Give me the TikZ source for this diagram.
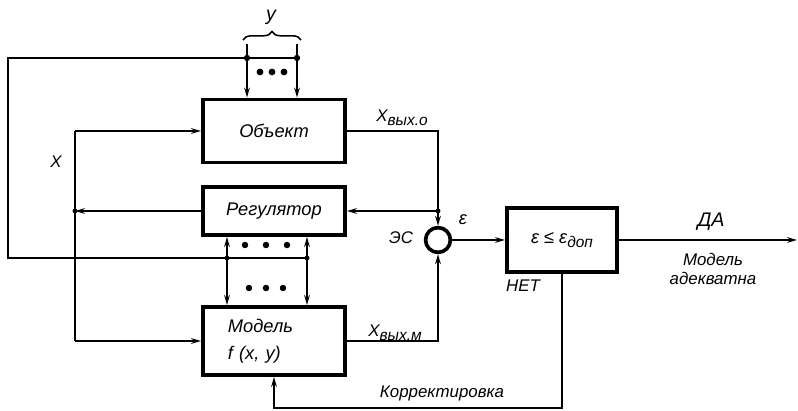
\documentclass[tikz,border=0pt]{standalone}
\usepackage{fontspec}
\setmainfont{Liberation Sans}
\usetikzlibrary{arrows.meta,positioning,decorations.pathreplacing}

\begin{document}
\begin{tikzpicture}[x=0.025cm,y=-0.025cm,>={Stealth[length=7pt,width=4pt]},
    blk/.style={draw,line width=2.8pt,minimum width=3.55cm,inner sep=0pt,
      font=\itshape\fontsize{13}{16}\selectfont},
    ln/.style={line width=1.3pt},
    jn/.style={circle,fill,inner sep=0pt,minimum size=4.5pt},
    lbl/.style={font=\itshape\fontsize{12}{14}\selectfont}]
  \useasboundingbox (0,0) rectangle (798,411);

  % blocks
  \node[blk,minimum height=1.575cm] (obj) at (274,131) {Объект};
  \node[blk,minimum height=1.2cm] (reg) at (274,211) {Регулятор};
  \node[blk,minimum height=1.7cm,text width=2.3cm,align=left,
    font=\itshape\fontsize{13}{19}\selectfont] (mod) at (274,341) {Модель\\f (x, y)};
  \node[draw,circle,line width=2.6pt,minimum size=0.62cm,inner sep=0pt] (es) at (438,240) {};
  \node[blk,minimum width=2.75cm,minimum height=1.6cm] (chk) at (562,240) {ε ≤ ε\raisebox{-0.4ex}{\fontsize{11}{12}\selectfont доп}};

  % y inputs
  \coordinate (ya) at (247,44);
  \coordinate (yb) at (297,44);
  \coordinate (lp) at (8,58);
  \draw[decorate,decoration={brace,amplitude=6pt},line width=1.1pt] (243,40) -- (301,40);
  \node[lbl,font=\itshape\fontsize{14}{16}\selectfont] (ylab) at (271,17) {y};
  \draw[ln,->] (ya) -- (ya |- obj.north);
  \draw[ln,->] (yb) -- (yb |- obj.north);
  \draw[ln] (yb |- lp) -- (lp) -- (8,258) -- (307,258);
  \node[jn] at (ya |- lp) {};
  \node[jn] at (yb |- lp) {};
  \foreach \x in {260,272,284}
    \fill (\x,72) circle (2.4pt);

  % y to regulator and model
  \coordinate (pa) at (227,258);
  \coordinate (pb) at (307,258);
  \foreach \p in {pa,pb}{
    \draw[ln,->] (\p) -- (\p |- reg.south);
    \draw[ln,->] (\p) -- (\p |- mod.north);
    \node[jn,minimum size=3.5pt] at (\p) {};
  }
  \foreach \x in {245,266,287}
    \fill (\x,245) circle (2.3pt);
  \foreach \x in {249,266,283}
    \fill (\x,288) circle (2.3pt);

  % x input
  \coordinate (xt) at (75,131);
  \coordinate (xb) at (75,341);
  \draw[ln] (xt) -- (xb);
  \draw[ln,->] (xt) -- (obj.west);
  \draw[ln,->] (xb) -- (mod.west);
  \draw[ln,->] (reg.west) -- (reg.west -| xt);
  \node[jn,minimum size=3.5pt] at (reg.west -| xt) {};
  \node[lbl] (xlab) at (56,162) {X};

  % outputs and comparison
  \draw[ln,->] (obj.east) -| (es.north);
  \draw[ln,->] (mod.east) -| (es.south);
  \draw[ln,->] (es |- reg.east) -- (reg.east);
  \node[jn,minimum size=3.5pt] at (es |- reg.east) {};
  \draw[ln,->] (es.east) -- (chk.west);
  \coordinate (out) at (797,240);
  \draw[ln,->] (chk.east) -- (out);
  \coordinate (fb) at (562,408);
  \draw[ln,->] (chk.south) -- (fb) -| (mod.south);

  % labels
  \node[lbl] (xo) at (402,118) {X\raisebox{-0.4ex}{\fontsize{11}{12}\selectfont вых.о}};
  \node[lbl] (xm) at (395,333) {X\raisebox{-0.4ex}{\fontsize{11}{12}\selectfont вых.м}};
  \node[lbl] (eslab) at (401,238) {ЭС};
  \node[lbl,font=\itshape\fontsize{13}{15}\selectfont] (eps) at (463,220) {ε};
  \node[lbl,font=\itshape\fontsize{14}{16}\selectfont] (yes) at (711,222) {ДА};
  \node[lbl,align=center,font=\itshape\fontsize{12}{14}\selectfont] (ok) at (713,269) {Модель\\адекватна};
  \node[lbl] (no) at (523,286) {НЕТ};
  \node[lbl] (corr) at (442,393) {Корректировка};
\end{tikzpicture}
\end{document}
